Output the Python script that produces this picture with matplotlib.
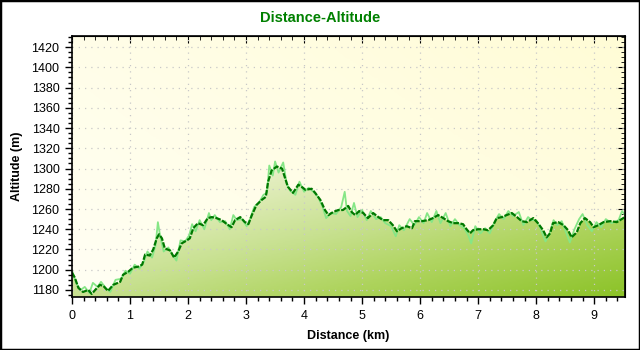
import numpy as np
import matplotlib
matplotlib.use('Agg')
import matplotlib.pyplot as plt
from matplotlib.colors import LinearSegmentedColormap
from matplotlib.patches import Polygon, Rectangle
from matplotlib.ticker import MultipleLocator

plt.rcParams['font.family'] = ['Liberation Sans', 'DejaVu Sans']

# profil lissé (km, m)
dist = [0.0, 0.05, 0.11, 0.19, 0.28, 0.34, 0.40, 0.48, 0.54, 0.62,
        0.71, 0.83, 0.88, 0.97, 1.05, 1.14, 1.21, 1.26, 1.34, 1.40,
        1.46, 1.50, 1.55, 1.60, 1.69, 1.76, 1.83, 1.89, 1.98, 2.03,
        2.09, 2.17, 2.26, 2.34, 2.41, 2.49, 2.58, 2.67, 2.75, 2.81,
        2.90, 2.98, 3.04, 3.10, 3.18, 3.27, 3.34, 3.38, 3.44, 3.53,
        3.62, 3.67, 3.72, 3.81, 3.90, 3.98, 4.02, 4.13, 4.19, 4.28,
        4.36, 4.42, 4.50, 4.59, 4.67, 4.76, 4.82, 4.88, 4.95, 5.02,
        5.10, 5.19, 5.28, 5.36, 5.45, 5.53, 5.60, 5.68, 5.77, 5.86,
        5.91, 6.03, 6.14, 6.22, 6.31, 6.40, 6.48, 6.57, 6.66, 6.74,
        6.80, 6.86, 6.91, 7.00, 7.09, 7.17, 7.26, 7.32, 7.41, 7.49,
        7.58, 7.67, 7.75, 7.84, 7.95, 8.03, 8.12, 8.18, 8.24, 8.29,
        8.38, 8.47, 8.55, 8.61, 8.70, 8.76, 8.84, 8.93, 8.99, 9.07,
        9.16, 9.28, 9.39, 9.50, 9.53]
alt = [1197, 1192, 1182, 1178, 1180, 1176, 1180, 1185, 1184, 1179,
       1185, 1188, 1195, 1198, 1202, 1203, 1205, 1215, 1214, 1220,
       1231, 1235, 1231, 1221, 1219, 1212, 1218, 1226, 1229, 1231,
       1241, 1246, 1244, 1251, 1252, 1251, 1249, 1245, 1242, 1249,
       1252, 1247, 1245, 1254, 1264, 1269, 1272, 1287, 1298, 1302,
       1300, 1291, 1282, 1276, 1284, 1281, 1279, 1280, 1276, 1269,
       1259, 1254, 1257, 1259, 1259, 1263, 1257, 1254, 1258, 1256,
       1251, 1256, 1252, 1249, 1249, 1244, 1238, 1241, 1243, 1241,
       1248, 1248, 1249, 1251, 1254, 1251, 1248, 1246, 1246, 1245,
       1240, 1236, 1239, 1240, 1240, 1239, 1244, 1251, 1252, 1254,
       1256, 1252, 1248, 1247, 1251, 1246, 1239, 1232, 1236, 1246,
       1247, 1244, 1239, 1232, 1237, 1246, 1251, 1247, 1242, 1244,
       1247, 1248, 1247, 1251, 1252]

# altitude brute (GPS)
raw_dist = [0.0, 0.08, 0.15, 0.22, 0.30, 0.36, 0.44, 0.50, 0.58, 0.66,
            0.75, 0.85, 0.92, 1.00, 1.08, 1.16, 1.24, 1.30, 1.38, 1.44,
            1.48, 1.52, 1.58, 1.66, 1.74, 1.80, 1.87, 1.95, 2.02, 2.07,
            2.13, 2.20, 2.28, 2.36, 2.40, 2.46, 2.55, 2.64, 2.72, 2.78,
            2.84, 2.93, 3.01, 3.07, 3.14, 3.22, 3.30, 3.36, 3.40, 3.46,
            3.50, 3.56, 3.64, 3.70, 3.76, 3.85, 3.92, 4.00, 4.08, 4.16,
            4.24, 4.32, 4.38, 4.46, 4.55, 4.64, 4.70, 4.74, 4.80, 4.86,
            4.92, 5.00, 5.08, 5.15, 5.24, 5.32, 5.40, 5.50, 5.58, 5.64,
            5.72, 5.82, 5.90, 5.98, 6.06, 6.12, 6.20, 6.28, 6.35, 6.44,
            6.52, 6.60, 6.68, 6.76, 6.83, 6.88, 6.95, 7.04, 7.12, 7.20,
            7.28, 7.36, 7.44, 7.52, 7.60, 7.70, 7.78, 7.86, 7.92, 8.00,
            8.08, 8.16, 8.22, 8.30, 8.36, 8.44, 8.52, 8.58, 8.66, 8.74,
            8.80, 8.88, 8.96, 9.04, 9.12, 9.20, 9.30, 9.42, 9.48, 9.53]
raw_alt = [1199, 1186, 1180, 1183, 1177, 1187, 1183, 1188, 1182, 1178,
           1190, 1191, 1199, 1196, 1205, 1201, 1208, 1218, 1212, 1224,
           1247, 1233, 1218, 1222, 1214, 1209, 1229, 1228, 1234, 1245,
           1238, 1249, 1240, 1256, 1249, 1254, 1247, 1248, 1240, 1254,
           1249, 1250, 1243, 1250, 1262, 1266, 1274, 1276, 1303, 1293,
           1307, 1296, 1306, 1285, 1278, 1274, 1287, 1277, 1281, 1277,
           1272, 1262, 1251, 1256, 1255, 1262, 1277, 1258, 1253, 1266,
           1252, 1259, 1249, 1258, 1250, 1252, 1246, 1243, 1233, 1244,
           1239, 1250, 1244, 1252, 1246, 1256, 1247, 1258, 1246, 1256,
           1243, 1250, 1244, 1241, 1234, 1226, 1243, 1236, 1241, 1236,
           1247, 1255, 1250, 1258, 1253, 1257, 1244, 1252, 1249, 1249,
           1240, 1228, 1234, 1249, 1244, 1248, 1236, 1227, 1240, 1250,
           1255, 1244, 1238, 1247, 1242, 1250, 1246, 1249, 1258, 1254]

xmin, xmax = 0, 9.53
ymin, ymax = 1173, 1431

fig = plt.figure(figsize=(6.4, 3.5), dpi=100)
ax = fig.add_axes([0.1125, 0.1514, 0.864, 0.7457])
ax.set_xlim(xmin, xmax)
ax.set_ylim(ymin, ymax)

# fond jaune pâle en dégradé
u, v = np.meshgrid(np.linspace(0, 1, 200), np.linspace(0, 1, 120))
bg_cmap = LinearSegmentedColormap.from_list('bg', ['#fffff4', '#fffcd6'])
ax.imshow(0.6 * u + 0.4 * v, cmap=bg_cmap, extent=[xmin, xmax, ymin, ymax],
          origin='lower', aspect='auto', zorder=0)

# remplissage sous la courbe en dégradé
fill_cmap = LinearSegmentedColormap.from_list(
    'fill', [(0.0, '#ffffff'), (0.3, '#fafcea'), (0.45, '#e8f0c8'),
             (0.65, '#c8e191'), (0.8, '#afd45f'), (1.0, '#8cc328')])
t = 0.35 * u + 0.65 * (1 - v)
im = ax.imshow(t, cmap=fill_cmap, vmin=0, vmax=1, extent=[xmin, xmax, ymin, ymax],
               origin='lower', aspect='auto', zorder=1)
poly = Polygon(list(zip(dist, alt)) + [(dist[-1], ymin), (dist[0], ymin)],
               closed=True, transform=ax.transData, facecolor='none', edgecolor='none')
ax.add_patch(poly)
im.set_clip_path(poly)

ax.plot(raw_dist, raw_alt, color='#86e686', lw=1.3, zorder=3)
ax.plot(dist, alt, color='#007800', lw=1.6, ls=(0, (2.5, 0.7)), zorder=4)

ax.xaxis.set_major_locator(MultipleLocator(1))
ax.xaxis.set_minor_locator(MultipleLocator(0.2))
ax.yaxis.set_major_locator(MultipleLocator(20))
ax.yaxis.set_minor_locator(MultipleLocator(5))
ax.tick_params(which='major', direction='out', length=5, width=1, labelsize=9, pad=4)
ax.tick_params(which='minor', direction='out', length=3, width=1)
ax.grid(True, which='major', color='#c8c8c8', ls=(0, (1, 4)), lw=0.9, zorder=2)
ax.set_axisbelow(False)
for s in ax.spines.values():
    s.set_linewidth(1.2)
    s.set_zorder(5)

# graduations intérieures en haut et à droite
top = ax.secondary_xaxis('top')
top.xaxis.set_major_locator(MultipleLocator(1))
top.xaxis.set_minor_locator(MultipleLocator(0.2))
top.tick_params(which='major', direction='in', length=5, labeltop=False)
top.tick_params(which='minor', direction='in', length=3)
right = ax.secondary_yaxis('right')
right.yaxis.set_major_locator(MultipleLocator(20))
right.yaxis.set_minor_locator(MultipleLocator(5))
right.tick_params(which='major', direction='in', length=5, labelright=False)
right.tick_params(which='minor', direction='in', length=3)

ax.set_xlabel('Distance (km)', fontsize=9, fontweight='bold', labelpad=6)
ax.set_ylabel('Altitude (m)', fontsize=9, fontweight='bold', labelpad=6)
fig.text(0.5, 0.95, 'Distance-Altitude', ha='center', va='center',
         fontsize=10.5, fontweight='bold', color='#008000')

fig.patches.append(Rectangle((0, 0), 1, 1, transform=fig.transFigure,
                             fill=False, edgecolor='black', lw=2.5))

fig.savefig('out.png', dpi=100)
